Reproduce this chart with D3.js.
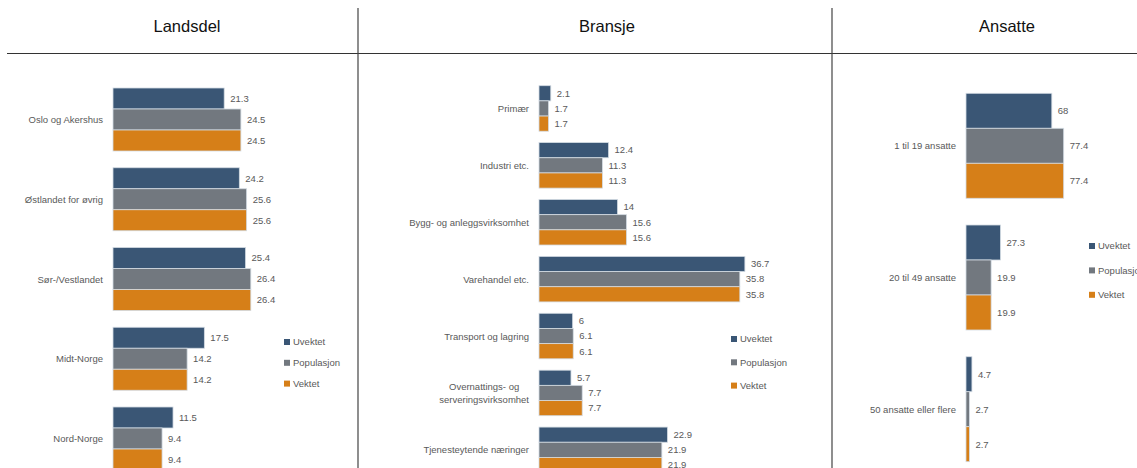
<!DOCTYPE html>
<html>
<head>
<meta charset="utf-8">
<script src="https://cdn.jsdelivr.net/npm/d3@7"></script>
<style>
  body { margin: 0; background: #fff; }
  svg { display: block; font-family: "Liberation Sans", Arial, sans-serif; }
</style>
</head>
<body>
<div id="chart"></div>
<script>
// Series
var series = ["Uvektet", "Populasjon", "Vektet"];
var colors = ["#3a5675", "#72787f", "#d67f18"];

// Landsdel
var landsdel = ["Oslo og Akershus", "Østlandet for øvrig", "Sør-/Vestlandet", "Midt-Norge", "Nord-Norge"];
var landsdelUvektet = [21.3, 24.2, 25.4, 17.5, 11.5];
var landsdelPopulasjon = [24.5, 25.6, 26.4, 14.2, 9.4];
var landsdelVektet = [24.5, 25.6, 26.4, 14.2, 9.4];

// Bransje
var bransje = ["Primær", "Industri etc.", "Bygg- og anleggsvirksomhet", "Varehandel etc.",
  "Transport og lagring", "Overnattings- og serveringsvirksomhet", "Tjenesteytende næringer"];
var bransjeUvektet = [2.1, 12.4, 14, 36.7, 6, 5.7, 22.9];
var bransjePopulasjon = [1.7, 11.3, 15.6, 35.8, 6.1, 7.7, 21.9];
var bransjeVektet = [1.7, 11.3, 15.6, 35.8, 6.1, 7.7, 21.9];

// Ansatte
var ansatte = ["1 til 19 ansatte", "20 til 49 ansatte", "50 ansatte eller flere"];
var ansatteUvektet = [68, 27.3, 4.7];
var ansattePopulasjon = [77.4, 19.9, 2.7];
var ansatteVektet = [77.4, 19.9, 2.7];

var width = 1137, height = 468;

var svg = d3.select("#chart").append("svg")
  .attr("width", width)
  .attr("height", height);

// Frame lines
svg.append("line")
  .attr("x1", 7).attr("x2", width).attr("y1", 53.5).attr("y2", 53.5)
  .style("stroke", "#333").style("stroke-width", 1.2);
[358, 832].forEach(function(x) {
  svg.append("line")
    .attr("x1", x).attr("x2", x).attr("y1", 8).attr("y2", height)
    .style("stroke", "#444").style("stroke-width", 1.2);
});

var panels = [
  { title: "Landsdel", titleX: 187, cats: landsdel,
    values: [landsdelUvektet, landsdelPopulasjon, landsdelVektet],
    x0: 113, xMax: 30, xWidth: 156.6, y0: 88, y1: 470, padding: 0.21,
    labelX: 103, legendX: 284, legendY: 342, legendStep: 20.8, lineGap: 12.5 },
  { title: "Bransje", titleX: 607, cats: bransje,
    values: [bransjeUvektet, bransjePopulasjon, bransjeVektet],
    x0: 539, xMax: 40, xWidth: 224.4, y0: 85.7, y1: 472.6, padding: 0.2,
    labelX: 529, legendX: 731, legendY: 339, legendStep: 23.3, lineGap: 12.5 },
  { title: "Ansatte", titleX: 1007, cats: ansatte,
    values: [ansatteUvektet, ansattePopulasjon, ansatteVektet],
    x0: 966, xMax: 100, xWidth: 126.2, y0: 93.3, y1: 461.7, padding: 0.203,
    labelX: 956, legendX: 1089, legendY: 246, legendStep: 24.4, lineGap: 12.5 }
];

panels.forEach(function(p) {
  var g = svg.append("g");

  g.append("text")
    .attr("x", p.titleX).attr("y", 32)
    .attr("text-anchor", "middle")
    .style("font-size", "16.5px")
    .style("fill", "#111")
    .text(p.title);

  var x = d3.scaleLinear().domain([0, p.xMax]).range([p.x0, p.x0 + p.xWidth]);
  var y = d3.scaleBand().domain(p.cats).range([p.y0, p.y1]).paddingInner(p.padding).paddingOuter(0);
  var ys = d3.scaleBand().domain(series).range([0, y.bandwidth()]);

  // Category labels (long one wrapped in two centred lines, right edge at labelX)
  p.cats.forEach(function(c) {
    var cy = y(c) + y.bandwidth() / 2;
    var lines = c === "Overnattings- og serveringsvirksomhet" ? ["Overnattings- og", "serveringsvirksomhet"] : [c];
    var t = g.append("text")
      .attr("text-anchor", lines.length > 1 ? "middle" : "end")
      .style("font-size", "9.5px")
      .style("fill", "#595959");
    var spans = lines.map(function(l, i) {
      return t.append("tspan")
        .attr("x", p.labelX)
        .attr("y", cy + 3.5 + (i - (lines.length - 1) / 2) * p.lineGap)
        .text(l);
    });
    if (lines.length > 1) {
      var maxW = d3.max(spans, function(s) { return s.node().getComputedTextLength(); });
      spans.forEach(function(s) { s.attr("x", p.labelX - maxW / 2); });
    }
  });

  // Bars
  series.forEach(function(s, si) {
    var data = p.cats.map(function(c, i) { return { cat: c, value: p.values[si][i] }; });
    g.selectAll(".bar-" + si).data(data).enter().append("rect")
      .attr("x", x(0))
      .attr("y", function(d) { return y(d.cat) + ys(s); })
      .attr("width", function(d) { return x(d.value) - x(0); })
      .attr("height", ys.bandwidth())
      .style("fill", colors[si])
      .style("stroke", "#d3dbe3")
      .style("stroke-width", 0.8);

    g.selectAll(".val-" + si).data(data).enter().append("text")
      .attr("x", function(d) { return x(d.value) + 6; })
      .attr("y", function(d) { return y(d.cat) + ys(s) + ys.bandwidth() / 2 + 3.3; })
      .style("font-size", "9.5px")
      .style("fill", "#595959")
      .text(function(d) { return d.value; });
  });

  // Legend
  series.forEach(function(s, si) {
    var ly = p.legendY + si * p.legendStep;
    g.append("rect")
      .attr("x", p.legendX).attr("y", ly - 3)
      .attr("width", 6).attr("height", 6)
      .style("fill", colors[si]);
    g.append("text")
      .attr("x", p.legendX + 9).attr("y", ly + 3.3)
      .style("font-size", "9.5px")
      .style("fill", "#595959")
      .text(s);
  });
});
</script>
</body>
</html>
